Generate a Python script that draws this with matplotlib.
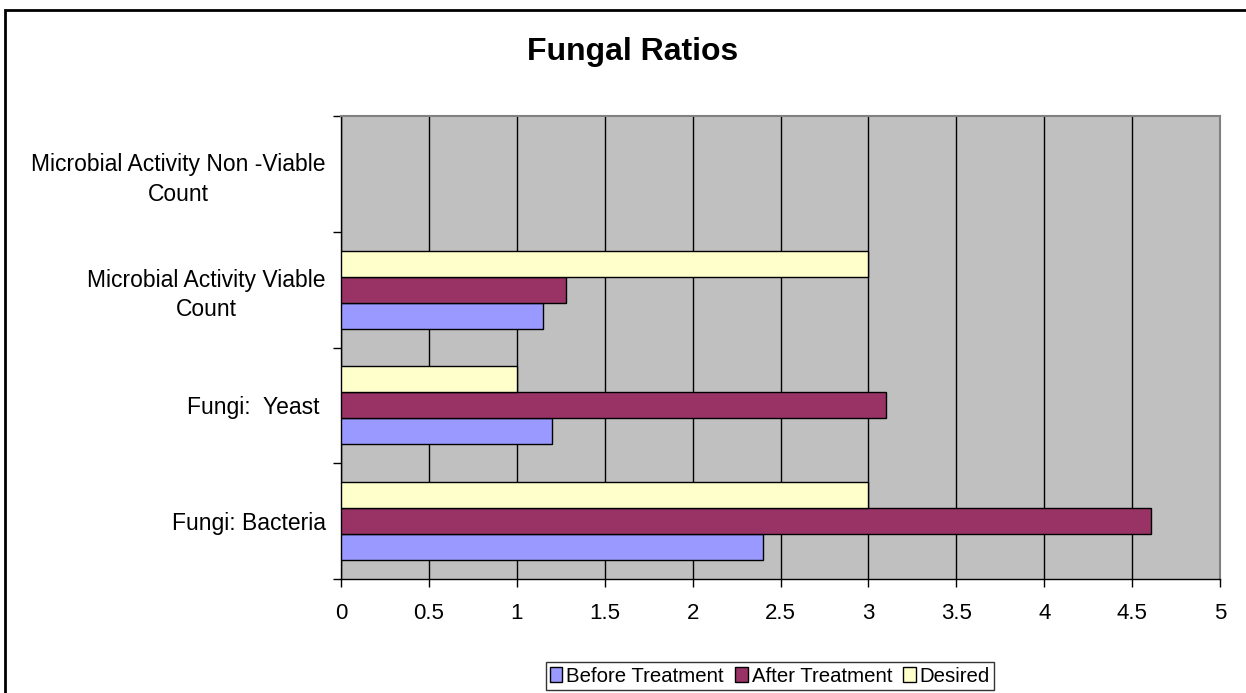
import numpy as np
import matplotlib
matplotlib.use('Agg')
import matplotlib.pyplot as plt
from matplotlib.patches import Rectangle

plt.rcParams['font.family'] = ['Liberation Sans', 'DejaVu Sans']

categories = ['Fungi: Bacteria',
              'Fungi:  Yeast ',
              'Microbial Activity Viable\nCount',
              'Microbial Activity Non -Viable\nCount']
before_treatment = [2.4, 1.2, 1.15, np.nan]
after_treatment = [4.61, 3.1, 1.28, np.nan]
desired = [3.0, 1.0, 3.0, np.nan]

series = [('Before Treatment', before_treatment, '#9999FF'),
          ('After Treatment', after_treatment, '#993366'),
          ('Desired', desired, '#FFFFCC')]

fig = plt.figure(figsize=(12.46, 6.93), dpi=100)
ax = fig.add_axes([341 / 1246, 114 / 693, 879 / 1246, 463 / 693])
ax.set_facecolor('#C0C0C0')

bar_h = 0.225
centers = np.arange(len(categories)) + 0.5
for i, (name, vals, col) in enumerate(series):
    ax.barh(centers + (i - 1) * bar_h, vals, height=bar_h, color=col,
            edgecolor='black', linewidth=1, label=name, zorder=3)

ax.set_xlim(0, 5)
ax.set_ylim(0, len(categories))
ax.set_xticks(np.arange(0, 5.01, 0.5))
ax.set_xticklabels(['0', '0.5', '1', '1.5', '2', '2.5', '3', '3.5', '4', '4.5', '5'])
ax.xaxis.grid(True, color='black', linewidth=1, zorder=1)
ax.set_axisbelow(True)

# boundaries get tick marks, labels sit on the category centres
ax.set_yticks(np.arange(len(categories) + 1))
ax.set_yticklabels([])
ax.set_yticks(centers, minor=True)
ax.set_yticklabels(categories, minor=True, fontsize=16.5, multialignment='center',
                   linespacing=1.35)
ax.tick_params(axis='y', which='minor', length=0, pad=11)
ax.tick_params(axis='y', which='major', direction='out', length=6, width=1)
ax.tick_params(axis='x', direction='out', length=6, width=1, pad=11, labelsize=16)

for s in ['top', 'right']:
    ax.spines[s].set_color('#808080')
    ax.spines[s].set_linewidth(1.5)
for s in ['left', 'bottom']:
    ax.spines[s].set_color('black')
    ax.spines[s].set_linewidth(1)

fig.text(633 / 1246, 1 - 52 / 693, 'Fungal Ratios', ha='center', va='center',
         fontsize=23, fontweight='bold')

leg = fig.legend(loc='center', bbox_to_anchor=(770 / 1246, 1 - 676 / 693), ncol=3,
                 fontsize=14.7, frameon=True, fancybox=False, edgecolor='black',
                 handlelength=0.6, handleheight=0.75, handletextpad=0.2,
                 columnspacing=0.55, borderpad=0.2, borderaxespad=0)
leg.get_frame().set_linewidth(1)

# outer chart border
fig.patches.append(Rectangle((5 / 1246, -0.1), 1.2, 1.1 - 10 / 693, transform=fig.transFigure,
                             fill=False, edgecolor='black', linewidth=2, clip_on=False))

fig.savefig('out.png', dpi=100)
